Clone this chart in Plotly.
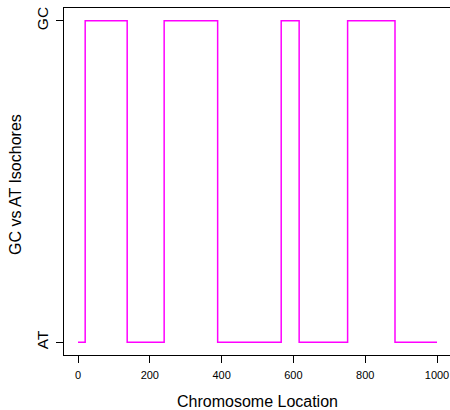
import plotly.graph_objects as go

# State change locations and states (0 = AT, 1 = GC)
locations = [0, 20, 137, 240, 389, 566, 616, 751, 883, 1000]
states = [0, 1, 0, 1, 0, 1, 0, 1, 0, 0]
x_ticks = [0, 200, 400, 600, 800, 1000]
y_tickvals = [0, 1]
y_ticktext = ["AT", "GC"]

fig = go.Figure()
fig.add_trace(go.Scatter(
    x=locations, y=states, mode="lines",
    line=dict(color="#FF00FF", width=1.5, shape="hv"),
    showlegend=False, hoverinfo="skip",
))

font_family = "Liberation Sans, Arial, Helvetica, sans-serif"

fig.update_layout(
    width=450, height=410,
    margin=dict(l=64, r=0, t=8, b=55, autoexpand=False),
    paper_bgcolor="white", plot_bgcolor="white",
    font=dict(family=font_family, color="black"),
    xaxis=dict(
        range=[-39, 1036.2], tickvals=x_ticks, automargin=False,
        showgrid=False, zeroline=False,
        showline=True, linecolor="black", linewidth=1, mirror=True,
        ticks="outside", ticklen=7, tickwidth=1, tickcolor="black",
        tickfont=dict(size=11, family=font_family),
        ticklabelstandoff=3,
    ),
    yaxis=dict(
        range=[-0.04, 1.04], tickvals=y_tickvals, ticktext=y_ticktext,
        tickangle=-90, automargin=False,
        showgrid=False, zeroline=False,
        showline=True, linecolor="black", linewidth=1, mirror=True,
        ticks="outside", ticklen=7, tickwidth=1, tickcolor="black",
        tickfont=dict(size=15.5, family=font_family),
        ticklabelstandoff=2,
    ),
    annotations=[
        dict(text="Chromosome Location", xref="paper", yref="paper",
             x=(257.5 - 64) / 386, y=-(401 - 355) / 347,
             xanchor="center", yanchor="middle", showarrow=False,
             font=dict(size=16)),
        dict(text="GC vs AT Isochores", xref="paper", yref="paper",
             x=-(64 - 15) / 386, y=(355 - 185) / 347, textangle=-90,
             xanchor="center", yanchor="middle", showarrow=False,
             font=dict(size=16)),
    ],
)

fig.write_html("out.html", config={"displayModeBar": False},
               post_script="document.body.style.margin='0';")
